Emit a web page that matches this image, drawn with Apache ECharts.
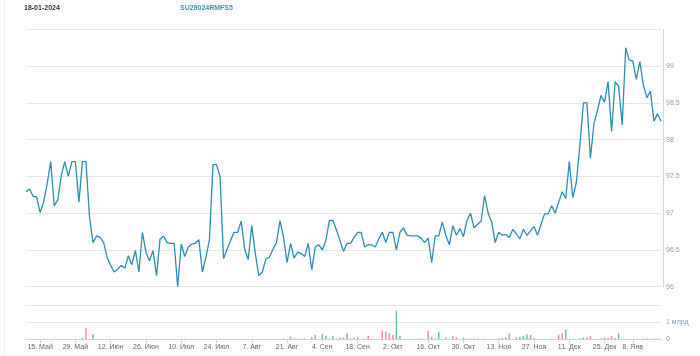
<!DOCTYPE html>
<html><head><meta charset="utf-8">
<script src="https://cdn.jsdelivr.net/npm/echarts@6/dist/echarts.min.js"></script>
<style>html,body{margin:0;padding:0;background:#fff}#c{width:700px;height:356px}</style>
</head><body><div id="c"></div>
<script>
const dates = [
'2023-05-08','2023-05-10','2023-05-11','2023-05-12','2023-05-15','2023-05-16','2023-05-17','2023-05-18','2023-05-19','2023-05-22','2023-05-23','2023-05-24','2023-05-25','2023-05-26','2023-05-29','2023-05-30','2023-05-31',
'2023-06-01','2023-06-02','2023-06-05','2023-06-06','2023-06-07','2023-06-08','2023-06-09','2023-06-12','2023-06-13','2023-06-14','2023-06-15','2023-06-16','2023-06-19','2023-06-20','2023-06-21','2023-06-22','2023-06-23','2023-06-26','2023-06-27','2023-06-28','2023-06-29','2023-06-30',
'2023-07-03','2023-07-04','2023-07-05','2023-07-06','2023-07-07','2023-07-10','2023-07-11','2023-07-12','2023-07-13','2023-07-14','2023-07-17','2023-07-18','2023-07-19','2023-07-20','2023-07-21','2023-07-24','2023-07-25','2023-07-26','2023-07-27','2023-07-28','2023-07-31',
'2023-08-01','2023-08-02','2023-08-03','2023-08-04','2023-08-07','2023-08-08','2023-08-09','2023-08-10','2023-08-11','2023-08-14','2023-08-15','2023-08-16','2023-08-17','2023-08-18','2023-08-21','2023-08-22','2023-08-23','2023-08-24','2023-08-25','2023-08-28','2023-08-29','2023-08-30','2023-08-31',
'2023-09-01','2023-09-04','2023-09-05','2023-09-06','2023-09-07','2023-09-08','2023-09-11','2023-09-12','2023-09-13','2023-09-14','2023-09-15','2023-09-18','2023-09-19','2023-09-20','2023-09-21','2023-09-22','2023-09-25','2023-09-26','2023-09-27','2023-09-28','2023-09-29',
'2023-10-02','2023-10-03','2023-10-04','2023-10-05','2023-10-06','2023-10-09','2023-10-10','2023-10-11','2023-10-12','2023-10-13','2023-10-16','2023-10-17','2023-10-18','2023-10-19','2023-10-20','2023-10-23','2023-10-24','2023-10-25','2023-10-26','2023-10-27','2023-10-30','2023-10-31',
'2023-11-01','2023-11-02','2023-11-03','2023-11-06','2023-11-07','2023-11-08','2023-11-09','2023-11-10','2023-11-13','2023-11-14','2023-11-15','2023-11-16','2023-11-17','2023-11-20','2023-11-21','2023-11-22','2023-11-23','2023-11-24','2023-11-27','2023-11-28','2023-11-29','2023-11-30',
'2023-12-01','2023-12-04','2023-12-05','2023-12-06','2023-12-07','2023-12-08','2023-12-11','2023-12-12','2023-12-13','2023-12-14','2023-12-15','2023-12-18','2023-12-19','2023-12-20','2023-12-21','2023-12-22','2023-12-25','2023-12-26','2023-12-27','2023-12-28','2023-12-29',
'2024-01-03','2024-01-04','2024-01-05','2024-01-08','2024-01-09','2024-01-10','2024-01-11','2024-01-12','2024-01-15','2024-01-16','2024-01-17','2024-01-18'
];

const prices = [
97.29,97.33,97.23,97.22,97.01,97.15,97.40,97.70,97.10,97.18,97.51,97.70,97.50,97.70,97.70,97.15,97.70,97.70,96.95,96.60,
96.69,96.67,96.60,96.40,96.29,96.20,96.24,96.29,96.25,96.42,96.30,96.49,96.20,96.74,96.47,96.35,96.49,96.15,96.65,96.69,
96.60,96.59,96.59,96.00,96.58,96.41,96.54,96.58,96.59,96.64,96.20,96.40,96.64,97.66,97.66,97.50,96.38,96.51,96.63,96.74,
96.74,96.89,96.51,96.37,96.83,96.45,96.15,96.20,96.38,96.40,96.51,96.60,96.90,96.67,96.33,96.59,96.39,96.47,96.45,96.41,
96.59,96.23,96.54,96.57,96.50,96.63,96.90,96.90,96.77,96.63,96.48,96.59,96.59,96.67,96.74,96.74,96.54,96.57,96.57,96.54,
96.65,96.74,96.60,96.74,96.74,96.50,96.74,96.80,96.70,96.69,96.69,96.69,96.66,96.60,96.66,96.33,96.69,96.69,96.88,96.70,
96.57,96.83,96.70,96.79,96.68,96.90,97.00,96.80,96.85,96.89,97.24,97.00,96.88,96.60,96.74,96.70,96.71,96.67,96.78,96.72,
96.65,96.78,96.70,96.76,96.82,96.70,96.85,96.99,96.99,97.10,97.00,97.15,97.29,97.20,97.70,97.21,97.42,97.92,98.50,98.50,
97.75,98.22,98.40,98.60,98.51,98.79,98.11,98.79,98.72,98.20,99.25,99.08,99.07,98.82,99.06,98.74,98.57,98.66,98.25,98.35,
98.25
];

// volume, млрд
const volumes = [
0,0,0,0,0,0,0,0,0,0,0,0,0,0,0,0,0.08,0.65,0,0.30,
0,0,0,0,0,0,0,0,0,0,0,0,0,0,0,0,0,0,0,0,
0,0,0,0,0,0.03,0,0,0,0,0,0,0,0,0,0,0,0,0,0,
0,0,0,0,0,0,0,0,0,0,0.03,0.03,0,0.04,0,0.15,0.04,0.05,0.04,0.05,
0,0.12,0.25,0,0.30,0.20,0.05,0.20,0.04,0.10,0.10,0.35,0.05,0.10,0.15,0,0.05,0.20,0.04,0,
0,0.50,0.45,0.35,0.25,1.67,0.20,0,0,0.03,0,0.03,0.05,0,0.50,0.15,0.05,0.45,0,0.10,
0,0.18,0.12,0,0.10,0,0.04,0.05,0.05,0,0.04,0,0,0,0.05,0.08,0.10,0.35,0,0.10,
0.15,0.20,0.30,0.25,0.08,0,0,0,0,0.04,0,0.25,0.35,0.55,0,0,0,0.05,0.10,0.10,
0.20,0,0,0.06,0.10,0.08,0.20,0.08,0.35,0,0,0,0,0,0,0.04,0.05,0,0.05,0.04,
0.03
];
// 1 = green bar, 0 = pink bar
const volUp = [
0,0,0,0,0,0,0,0,0,0,0,0,0,0,0,0,0,0,0,1,
0,0,0,0,0,0,0,0,0,0,0,0,0,0,0,0,0,0,0,0,
0,0,0,0,0,0,0,0,0,0,0,0,0,0,0,0,0,0,0,0,
0,0,0,0,0,0,0,0,0,0,0,1,0,0,0,0,1,0,1,0,
0,1,0,0,1,1,0,1,0,1,0,1,0,0,0,0,0,0,1,0,
0,0,0,0,0,1,1,0,0,1,0,0,1,0,0,0,0,1,0,1,
0,0,0,0,1,0,1,0,1,0,0,0,0,0,0,1,1,0,0,1,
1,1,1,1,0,0,0,0,0,0,0,0,0,1,0,0,0,0,1,0,
0,0,0,0,1,0,0,0,1,0,0,0,0,0,0,0,1,0,0,1,
0
];

const tickDates = ['2023-05-15','2023-05-29','2023-06-12','2023-06-26','2023-07-10','2023-07-24','2023-08-07','2023-08-21','2023-09-04','2023-09-18','2023-10-02','2023-10-16','2023-10-30','2023-11-13','2023-11-27','2023-12-11','2023-12-25','2024-01-08'];
const monthNames = ['Янв','Фев','Мар','Апр','Май','Июн','Июл','Авг','Сен','Окт','Ноя','Дек'];
const priceTickLabels = ['96','96.5','97','97.5','98','98.5','99'];
const volumeTickLabels = ['0','1 млрд'];
const titleDate = '18-01-2024';
const titleCode = 'SU29024RMFS5';

const FONT = '"Liberation Sans", Arial, Helvetica, sans-serif';
const tickSet = new Set(tickDates);
const isTick = (i, v) => tickSet.has(v);
const fmtDate = v => { const p = v.split('-'); return parseInt(p[2], 10) + '. ' + monthNames[parseInt(p[1], 10) - 1]; };
const GREEN = '#6cc391', PINK = '#e88e9f';

const chart = echarts.init(document.getElementById('c'), null, {renderer: 'canvas'});
chart.setOption({
  animation: false,
  backgroundColor: '#ffffff',
  textStyle: {fontFamily: FONT},
  graphic: [
    {type: 'line', shape: {x1: 4.5, y1: 0, x2: 4.5, y2: 356}, style: {stroke: '#f0f0f0', lineWidth: 1}},
    {type: 'text', left: 24, top: 5, style: {text: titleDate, font: 'bold 7px ' + FONT, fill: '#333333'}},
    {type: 'text', left: 180, top: 5, style: {text: titleCode, font: 'bold 7px ' + FONT, fill: '#3a97c2'}}
  ],
  grid: [
    {left: 26, right: 39, top: 29.3, height: 257.4},
    {left: 26, right: 39, top: 305, height: 34.3}
  ],
  xAxis: [
    {type: 'category', gridIndex: 0, data: dates, boundaryGap: false,
     axisLine: {show: false}, axisTick: {show: false}, axisLabel: {show: false}, splitLine: {show: false}},
    {type: 'category', gridIndex: 1, data: dates, boundaryGap: false,
     axisLine: {show: true, lineStyle: {color: '#ccd6eb', width: 1}},
     axisTick: {show: true, interval: isTick, length: 4, lineStyle: {color: '#ccd6eb'}},
     axisLabel: {interval: isTick, formatter: fmtDate, fontSize: 7, color: '#666666', margin: 4, fontFamily: FONT},
     splitLine: {show: false}}
  ],
  yAxis: [
    {type: 'value', gridIndex: 0, position: 'right', offset: 2, min: 96, max: 99.5, interval: 0.5,
     axisLine: {show: true, lineStyle: {color: '#ccd6eb'}}, axisTick: {show: false},
     axisLabel: {fontSize: 7, color: '#8a9bb6', margin: 3, fontFamily: FONT,
       formatter: (v) => { const i = Math.round((v - 96) / 0.5); return priceTickLabels[i] || ''; }},
     splitLine: {show: true, lineStyle: {color: '#e6e6e6', width: 1}}},
    {type: 'value', gridIndex: 1, position: 'right', offset: 2, min: 0, max: 2, interval: 1,
     axisLine: {show: false}, axisTick: {show: false},
     axisLabel: {fontSize: 7, color: '#8a9bb6', margin: 3, fontFamily: FONT,
       formatter: (v) => volumeTickLabels[Math.round(v)] || ''},
     splitLine: {show: true, lineStyle: {color: '#e6e6e6', width: 1}}}
  ],
  series: [
    {type: 'line', xAxisIndex: 0, yAxisIndex: 0, data: prices, symbol: 'none', smooth: false,
     lineStyle: {width: 1.3, color: '#2a8db3'}},
    {type: 'bar', xAxisIndex: 1, yAxisIndex: 1, barWidth: 1.5,
     data: volumes.map((v, i) => ({value: v, itemStyle: {color: volUp[i] ? GREEN : PINK}}))}
  ]
});
</script>
</body></html>
